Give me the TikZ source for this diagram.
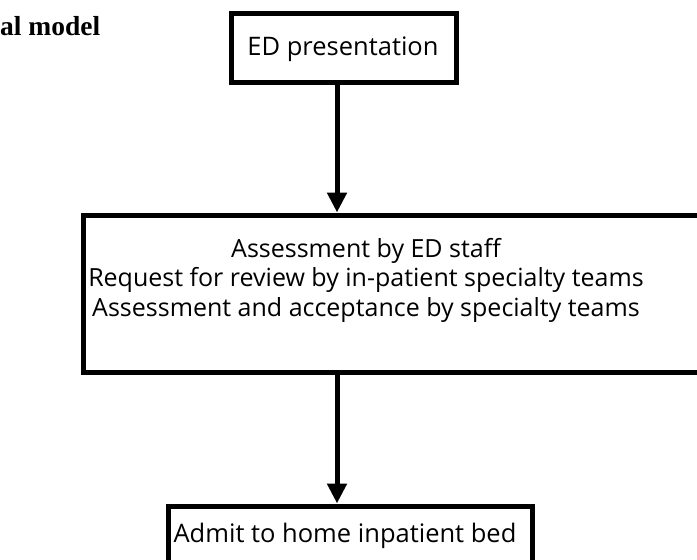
\documentclass[tikz,border=0pt]{standalone}
\usepackage{fontspec}
\setmainfont{Open Sans}
\newfontfamily\headfont{Liberation Serif}
\usetikzlibrary{arrows.meta}
\tikzset{
  stagebox/.style={draw=black, line width=5pt, rectangle, inner sep=0pt, fill=white},
  stagetext/.style={font=\fontsize{25.5}{30}\selectfont, align=center, inner sep=0pt},
  flow/.style={line width=5pt, -{Triangle[width=19pt,length=20pt]}}
}
\begin{document}
\begin{tikzpicture}[x=1pt,y=-1pt]
\useasboundingbox (0,0) rectangle (697,560);
\clip (0,0) rectangle (697,560);
\fill[white] (0,0) rectangle (697,560);

% heading fragment
\node[anchor=base west, inner sep=0pt, font=\headfont\bfseries\fontsize{27.5}{30}\selectfont] (head) at (0,35) {al model};

% stage boxes
\node[stagebox, minimum width=225pt, minimum height=69pt] (top) at (343.5,47.5) {};
\node[stagetext, anchor=base] (toptext) at (343,55) {ED presentation};

\node[stagebox, minimum width=650pt, minimum height=157pt] (mid) at (408,293.5) {};
% the base anchor sits on the last line
\node[stagetext, font=\fontsize{25}{29.5}\selectfont, anchor=base] (midtext) at (366,316) {Assessment by ED staff\\Request for review by in-patient specialty teams\\Assessment and acceptance by specialty teams};

\node[stagebox, minimum width=364pt, minimum height=80pt] (bot) at (350,546) {};
\node[stagetext, anchor=base] (bottext) at (345,542) {Admit to home inpatient bed};

% connectors
\coordinate (ax) at (337,0);
\draw[flow] (top.south -| ax) -- (mid.north -| ax);
\draw[flow] (mid.south -| ax) -- (bot.north -| ax);
\end{tikzpicture}
\end{document}
